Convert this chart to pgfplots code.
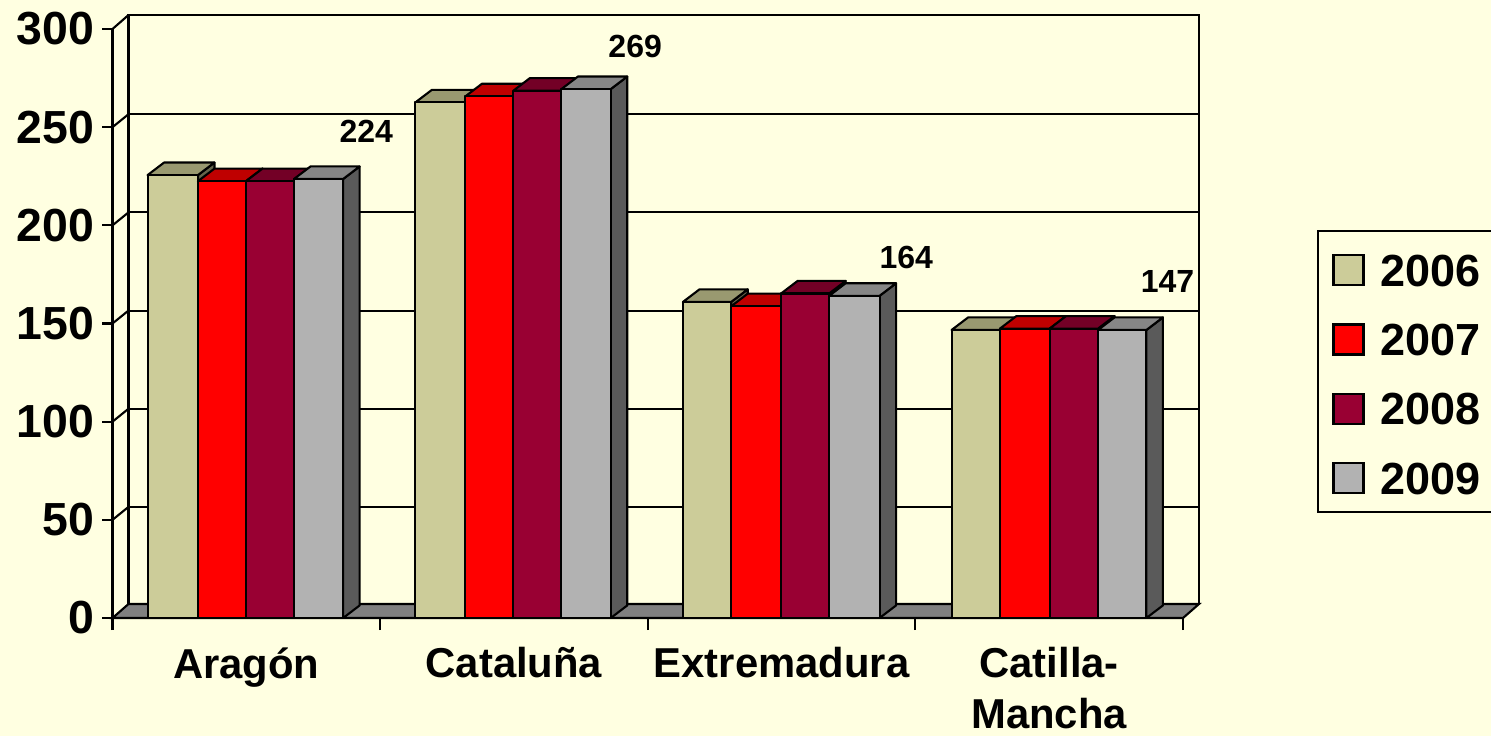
\documentclass[border=0pt]{standalone}
\usepackage{pgfplots}
\pgfplotsset{compat=1.18}
\usepackage{fontspec}
\setmainfont{Liberation Sans}
\definecolor{bg}{HTML}{FFFFE1}
\definecolor{floorc}{HTML}{808080}
\definecolor{aF}{HTML}{CCCC99}\definecolor{aT}{HTML}{999970}\definecolor{aS}{HTML}{66664C}
\definecolor{bF}{HTML}{FF0000}\definecolor{bT}{HTML}{BF0000}\definecolor{bS}{HTML}{800000}
\definecolor{cF}{HTML}{990033}\definecolor{cT}{HTML}{730026}\definecolor{cS}{HTML}{4D001A}
\definecolor{dF}{HTML}{B2B2B2}\definecolor{dT}{HTML}{868686}\definecolor{dS}{HTML}{5A5A5A}
% #1 left edge, #2 right edge (in category units), #3 value, #4 colour prefix
\newcommand\threedbar[4]{%
  \pgfmathsetmacro\xc{#2+0.0617}\pgfmathsetmacro\xd{#1+0.0617}\pgfmathsetmacro\yt{#3+6.4}%
  \addplot[forget plot,draw=black,line width=1.05pt,line join=round,fill=#4S] coordinates {(#2,0) (\xc,6.4) (\xc,\yt) (#2,#3)} --cycle;
  \addplot[forget plot,draw=black,line width=1.05pt,line join=round,fill=#4T] coordinates {(#1,#3) (#2,#3) (\xc,\yt) (\xd,\yt)} --cycle;
  \addplot[forget plot,draw=black,line width=1.05pt,line join=round,fill=#4F] coordinates {(#1,0) (#2,0) (#2,#3) (#1,#3)} --cycle;
}
\pgfplotsset{swatch/.style={legend image code/.code={%
  \draw[black,line width=1.05pt,fill=#1] (0pt,0.5pt) rectangle (15pt,15.5pt);}}}
\begin{document}
\begin{tikzpicture}[x=1pt,y=1pt]
\useasboundingbox (0,0) rectangle (745.5,368);
\clip (0,0) rectangle (745.5,368);
\fill[bg] (0,0) rectangle (745.5,368);
\begin{axis}[
  at={(56.25pt,59pt)},anchor=south west,
  scale only axis,width=535.25pt,height=294.5pt,
  xmin=0,xmax=4,ymin=0,ymax=300,clip=false,
  axis x line=bottom,axis y line=left,axis line style={-,black,line width=1.05pt},
  ytick={0,50,100,150,200,250,300},
  xtick={0.5,1.5,2.5,3.5},
  xticklabels={Aragón,Cataluña,Extremadura,{Catilla-\\Mancha}},
  minor xtick={0,1,2,3,4},
  tick align=outside,
  major tick length=5pt,
  x tick style={draw=none},
  y tick style={black,line width=1.05pt},
  minor tick length=6pt,
  minor x tick style={draw=black,line width=1.05pt},
  /pgf/number format/assume math mode=true,
  yticklabel style={font=\fontsize{23.2}{27}\selectfont\bfseries,inner sep=0pt,xshift=-4pt},
  xticklabel style={font=\fontsize{20.9}{25.5}\selectfont\bfseries,align=center,inner sep=0pt,yshift=-9.5pt},
  legend cell align=left,
  legend style={at={(1.1255,0.6587)},anchor=north west,draw=black,line width=1.05pt,fill=bg,
    font=\fontsize{22.5}{27}\selectfont\bfseries,row sep=17.2pt,inner xsep=7pt,inner ysep=7.5pt,
    /tikz/column 1/.style={column sep=8pt},
    nodes={inner sep=0pt,anchor=base west}},
]
% floor
\addplot[forget plot,draw=black,line width=1.05pt,fill=floorc] coordinates {(0,0) (4,0) (4.0598,7.13) (0.0598,7.13)} --cycle;
% back wall and side wall
\addplot[forget plot,black,line width=1.05pt] coordinates {(0.0598,7.13) (0.0598,307.13) (4.0598,307.13) (4.0598,7.13)};
\addplot[forget plot,black,line width=1.05pt] coordinates {(0.0598,56.6) (4.0598,56.6)};
\addplot[forget plot,black,line width=1.05pt] coordinates {(0.0598,106.6) (4.0598,106.6)};
\addplot[forget plot,black,line width=1.05pt] coordinates {(0.0598,156.6) (4.0598,156.6)};
\addplot[forget plot,black,line width=1.05pt] coordinates {(0.0598,206.6) (4.0598,206.6)};
\addplot[forget plot,black,line width=1.05pt] coordinates {(0.0598,256.6) (4.0598,256.6)};
\addplot[forget plot,black,line width=1.05pt] coordinates {(0,50) (0.0598,56.6)};
\addplot[forget plot,black,line width=1.05pt] coordinates {(0,100) (0.0598,106.6)};
\addplot[forget plot,black,line width=1.05pt] coordinates {(0,150) (0.0598,156.6)};
\addplot[forget plot,black,line width=1.05pt] coordinates {(0,200) (0.0598,206.6)};
\addplot[forget plot,black,line width=1.05pt] coordinates {(0,250) (0.0598,256.6)};
\addplot[forget plot,black,line width=1.05pt] coordinates {(0,300) (0.0598,307.13)};
% bars: Aragon
\threedbar{0.1312}{0.3193}{225.6}{a}
\threedbar{0.3193}{0.4987}{222.5}{b}
\threedbar{0.4987}{0.6781}{222.5}{c}
\threedbar{0.6781}{0.8617}{223.6}{d}
% Cataluna
\threedbar{1.1316}{1.3186}{262.6}{a}
\threedbar{1.3186}{1.4980}{265.7}{b}
\threedbar{1.4980}{1.6774}{268.6}{c}
\threedbar{1.6774}{1.8617}{269.4}{d}
% Extremadura
\threedbar{2.1316}{2.3118}{161.0}{a}
\threedbar{2.3118}{2.4983}{158.8}{b}
\threedbar{2.4983}{2.6778}{165.3}{c}
\threedbar{2.6778}{2.8662}{164.1}{d}
% Catilla-Mancha
\threedbar{3.1353}{3.3159}{146.7}{a}
\threedbar{3.3159}{3.5017}{147.4}{b}
\threedbar{3.5017}{3.6824}{147.4}{c}
\threedbar{3.6824}{3.8632}{146.7}{d}
% value labels
\addplot[forget plot,draw=none,mark=none,nodes near coords,point meta=explicit symbolic,
  every node near coord/.style={anchor=center,inner sep=0pt,black,font=\fontsize{16}{19}\selectfont\bfseries}]
  table[meta=l]{
x y l
0.948 248 224
1.953 291.3 269
2.966 183.4 164
3.942 171.6 147
};
\addlegendimage{swatch=aF}\addlegendentry{\rule{0pt}{20pt}2006}
\addlegendimage{swatch=bF}\addlegendentry{2007}
\addlegendimage{swatch=cF}\addlegendentry{2008}
\addlegendimage{swatch=dF}\addlegendentry{2009}
\end{axis}
\end{tikzpicture}
\end{document}
